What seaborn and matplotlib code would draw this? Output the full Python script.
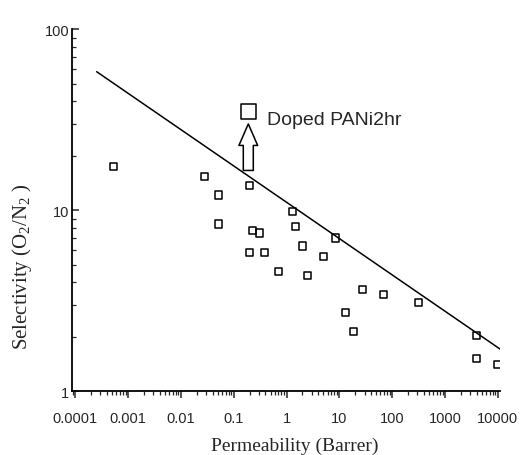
import matplotlib
matplotlib.use('Agg')
import matplotlib.pyplot as plt
from matplotlib.ticker import LogLocator, FixedLocator, FixedFormatter, NullFormatter
import seaborn as sns
import pandas as pd

sns.set_style('white')
plt.rcParams['font.family'] = ['Liberation Sans', 'DejaVu Sans']
plt.rcParams['mathtext.fontset'] = 'custom'
plt.rcParams['mathtext.rm'] = 'Liberation Serif'
plt.rcParams['mathtext.it'] = 'Liberation Serif:italic'

# 막 데이터 (O2/N2) - 그림에서 읽은 값
permeability = [0.00053, 0.0277, 0.200, 0.0526, 0.0526, 0.231, 0.314, 0.197, 0.379, 0.718,
                1.28, 1.49, 1.98, 2.54, 4.95, 8.49, 13.1, 18.6, 27.9, 67.5,
                310, 4000, 4000, 9680]
selectivity = [17.4, 15.3, 13.7, 12.15, 8.4, 7.69, 7.49, 5.86, 5.86, 4.59,
               9.87, 8.12, 6.35, 4.37, 5.54, 7.03, 2.71, 2.13, 3.63, 3.44,
               3.11, 2.03, 1.51, 1.40]

# 도핑된 PANi (2시간)
doped_perm = [0.189]
doped_sel = [35.1]
doped_label = 'Doped PANi2hr'

# Robeson upper bound
bound_perm = [0.000255, 12050]
bound_sel = [58.3, 1.68]

xticks = [0.0001, 0.001, 0.01, 0.1, 1, 10, 100, 1000, 10000]
xtick_labels = ['0.0001', '0.001', '0.01', '0.1', '1', '10', '100', '1000', '10000']
yticks = [1, 10, 100]
ytick_labels = ['1', '10', '100']

df = pd.DataFrame({'perm': permeability, 'sel': selectivity})
bound = pd.DataFrame({'perm': bound_perm, 'sel': bound_sel})
doped = pd.DataFrame({'perm': doped_perm, 'sel': doped_sel})

fig = plt.figure(figsize=(5.31, 4.56), dpi=100)
ax = fig.add_axes([0.1356, 0.1397, 0.806, 0.7939])
ax.set_xscale('log')
ax.set_yscale('log')

sns.lineplot(data=bound, x='perm', y='sel', color='black', linewidth=1.1, ax=ax)
sns.scatterplot(data=df, x='perm', y='sel', marker='s', s=26, linewidth=1.1,
                edgecolor='black', ax=ax)
sns.scatterplot(data=doped, x='perm', y='sel', marker='s', s=110, linewidth=1.1,
                edgecolor='black', ax=ax)
for coll in ax.collections:
    coll.set_facecolor('none')
    coll.set_edgecolor('black')

# 화살표 + 라벨
ax.annotate('', xy=(doped_perm[0], 30.0), xytext=(doped_perm[0], 16.6),
            arrowprops=dict(arrowstyle='simple,head_length=1.55,head_width=1.35,tail_width=0.72',
                            fc='white', ec='black', lw=1.1, shrinkA=0, shrinkB=0,
                            mutation_scale=10))
ax.text(0.42, 30.0, doped_label, fontsize=14, ha='left', va='baseline')

ax.set_xlim(10 ** -4.06, 10 ** 4.04)
ax.set_ylim(1, 100)

ax.xaxis.set_major_locator(FixedLocator(xticks))
ax.xaxis.set_major_formatter(FixedFormatter(xtick_labels))
ax.xaxis.set_minor_locator(LogLocator(base=10, subs=range(2, 10), numticks=20))
ax.xaxis.set_minor_formatter(NullFormatter())
ax.yaxis.set_major_locator(FixedLocator(yticks))
ax.yaxis.set_major_formatter(FixedFormatter(ytick_labels))
ax.yaxis.set_minor_locator(LogLocator(base=10, subs=range(2, 10), numticks=20))
ax.yaxis.set_minor_formatter(NullFormatter())

ax.tick_params(axis='x', which='major', direction='out', length=5, width=1.1, pad=9, labelsize=10.5)
ax.tick_params(axis='x', which='minor', direction='out', length=3, width=0.9)
ax.tick_params(axis='y', which='major', direction='in', length=5, width=1.1, pad=2, labelsize=10.5)
ax.tick_params(axis='y', which='minor', direction='in', length=3, width=0.9)
ax.xaxis.set_ticks_position('bottom')
ax.yaxis.set_ticks_position('left')

for side in ['top', 'right']:
    ax.spines[side].set_visible(False)
for side in ['left', 'bottom']:
    ax.spines[side].set_color('black')
    ax.spines[side].set_linewidth(1.3)

ax.set_xlabel('Permeability (Barrer)', family='Liberation Serif', fontsize=14)
ax.set_ylabel('Selectivity (O$_2$/N$_2$ )', family='Liberation Serif', fontsize=15)
ax.xaxis.set_label_coords(0.52, -0.149)
ax.xaxis.label.set_va('center')
ax.yaxis.set_label_coords(-0.117, 0.347)
ax.yaxis.label.set_va('center')

fig.savefig('out.png', dpi=100)
